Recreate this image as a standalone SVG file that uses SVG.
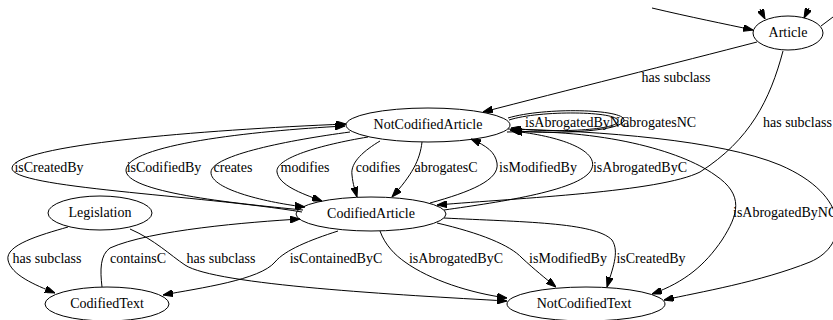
<svg xmlns="http://www.w3.org/2000/svg" width="833" height="320" viewBox="0 0 833 320">
<defs>
<style>
.n ellipse{fill:none;stroke:#000;stroke-width:1}
text{font-family:"Liberation Serif",Times,serif;font-size:14px;fill:#000}
.n text{text-anchor:middle}
.lbl{text-anchor:middle}
.e path{fill:none;stroke:#000;stroke-width:1;marker-end:url(#ah)}
.e path.na{marker-end:none}
</style>
<marker id="ah" markerUnits="userSpaceOnUse" markerWidth="10" markerHeight="7" refX="10" refY="3.5" orient="auto">
<path d="M0,0 L10,3.5 L0,7 z" fill="#000" stroke="#000"/>
</marker>
</defs>
<rect width="833" height="320" fill="#fff"/>
<g id="edges" class="e">
<path d="M652,8 C690,17 725,24 753,30"/>
<path d="M760,9 L765,19"/>
<path d="M809,8 L804,18"/>
<path class="na" d="M821,26 L833,17"/>
<path d="M757,42 C680,62 560,92 483,112"/>
<path d="M783,51 C770,100 750,140 700,172 C660,192 520,198 437,205"/>
<path d="M509,120 C540,110 618,111 618,121 C618,131 545,133 511,128"/>
<path d="M508,118 C545,107 624,109 624,120 C624,132 545,135 510,130"/>
<path d="M507,132 C600,129 680,150 715,175 C745,195 738,215 722,240 C705,265 685,282 652,294"/>
<path d="M508,129 C600,131 720,140 780,165 C850,195 850,245 810,262 C760,282 700,292 664,300"/>
<path d="M444,210 C500,202 585,190 592,168 C598,150 560,136 512,131"/>
<path d="M430,203 C470,192 500,180 497,163 C495,152 487,146 471,139"/>
<path d="M422,142 C420,160 412,175 392,197"/>
<path d="M380,141 C365,150 350,162 352,175 C353,185 355,190 357,197"/>
<path d="M368,137 C320,145 275,158 277,172 C279,185 300,193 322,201"/>
<path d="M350,132 C290,140 212,155 211,172 C210,190 270,203 305,207"/>
<path d="M303,210 C230,203 125,192 126,170 C127,145 250,131 345,126"/>
<path d="M302,212 C200,195 10,188 12,168 C14,145 200,130 346,124"/>
<path d="M68,227 C40,235 5,245 8,260 C11,275 35,285 55,293"/>
<path d="M130,229 C155,240 170,255 185,265 C215,285 400,295 507,301"/>
<path d="M380,231 C385,245 395,255 405,262 C430,280 470,293 507,298"/>
<path d="M437,223 C480,233 510,245 522,258 C535,270 545,278 556,287"/>
<path d="M444,218 C520,222 595,222 612,240 C620,252 612,270 607,287"/>
<path d="M338,231 C310,240 285,250 275,262 C260,280 200,288 163,295"/>
<path d="M102,287 C100,270 100,255 110,248 C150,230 250,222 300,219"/>
</g>
<g id="edge-labels">
<text class="lbl" x="676" y="82">has subclass</text>
<text x="763" y="127">has subclass</text>
<text x="525" y="127">isAbrogatedByNC</text>
<text x="623" y="127">abrogatesNC</text>
<text class="lbl" x="49" y="172">isCreatedBy</text>
<text class="lbl" x="164" y="172">isCodifiedBy</text>
<text class="lbl" x="233" y="172">creates</text>
<text class="lbl" x="305" y="172">modifies</text>
<text class="lbl" x="378" y="172">codifies</text>
<text class="lbl" x="446" y="172">abrogatesC</text>
<text class="lbl" x="538" y="172">isModifiedBy</text>
<text class="lbl" x="640" y="172">isAbrogatedByC</text>
<text x="733" y="217">isAbrogatedByNC</text>
<text class="lbl" x="47" y="263">has subclass</text>
<text class="lbl" x="138" y="263">containsC</text>
<text class="lbl" x="221" y="263">has subclass</text>
<text class="lbl" x="336" y="263">isContainedByC</text>
<text class="lbl" x="456" y="263">isAbrogatedByC</text>
<text class="lbl" x="568" y="263">isModifiedBy</text>
<text class="lbl" x="651" y="263">isCreatedBy</text>
</g>
<g id="Article" class="n"><ellipse cx="788" cy="33" rx="35" ry="17"/><text x="788" y="37">Article</text></g>
<g id="NotCodifiedArticle" class="n"><ellipse cx="428" cy="125" rx="82" ry="17"/><text x="428" y="129">NotCodifiedArticle</text></g>
<g id="CodifiedArticle" class="n"><ellipse cx="371" cy="214" rx="75" ry="17"/><text x="371" y="218">CodifiedArticle</text></g>
<g id="Legislation" class="n"><ellipse cx="100" cy="213" rx="52" ry="17"/><text x="100" y="217">Legislation</text></g>
<g id="CodifiedText" class="n"><ellipse cx="107" cy="304" rx="62" ry="17"/><text x="107" y="308">CodifiedText</text></g>
<g id="NotCodifiedText" class="n"><ellipse cx="586" cy="304" rx="79" ry="17"/><text x="584" y="308">NotCodifiedText</text></g>
</svg>
